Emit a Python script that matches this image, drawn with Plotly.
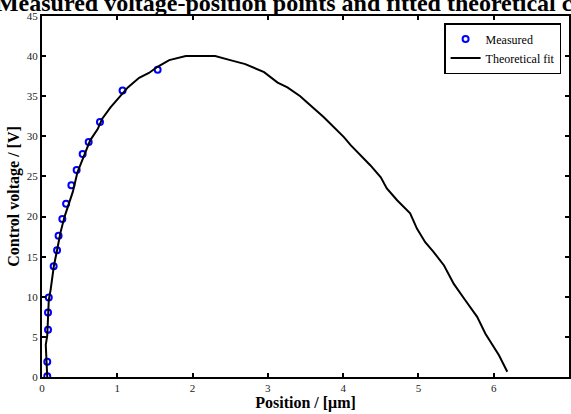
import plotly.graph_objects as go

# Measured voltage-position points
meas_x = [0.07, 0.07, 0.08, 0.08, 0.09, 0.155, 0.20, 0.22, 0.27, 0.32, 0.39, 0.46, 0.54, 0.62, 0.77, 1.07, 1.536]
meas_y = [0.1, 1.9, 5.9, 8.05, 9.9, 13.8, 15.8, 17.6, 19.7, 21.6, 23.9, 25.8, 27.8, 29.3, 31.8, 35.7, 38.3]

# Theoretical fit curve
fit_x = [0.07, 0.045, 0.05, 0.07, 0.09, 0.115, 0.157, 0.20, 0.245, 0.30, 0.36, 0.41, 0.47, 0.56,
         0.64, 0.74, 0.80, 0.91, 1.01, 1.14, 1.29, 1.42, 1.54, 1.69, 1.91, 2.30, 2.50, 2.70, 2.95,
         3.13, 3.26, 3.43, 3.50, 3.74, 4.01, 4.10, 4.36, 4.50, 4.58, 4.72, 4.89, 4.98, 5.09, 5.20,
         5.34, 5.47, 5.62, 5.78, 5.89, 6.07, 6.18]
fit_y = [0.0, 3.4, 4.0, 5.2, 9.6, 10.9, 13.8, 15.8, 18.0, 20.0, 21.8, 23.1, 25.5, 27.6,
         29.5, 30.9, 32.2, 33.6, 34.7, 36.1, 37.3, 37.9, 38.7, 39.5, 40.0, 40.0, 39.5, 39.0, 38.0,
         36.7, 36.1, 35.0, 34.4, 32.4, 29.9, 28.9, 26.4, 24.9, 23.5, 22.0, 20.4, 18.5, 16.8, 15.6,
         13.9, 11.6, 9.6, 7.5, 5.4, 2.7, 0.66]

x_ticks = [0, 1, 2, 3, 4, 5, 6, 7]
y_ticks = [0, 5, 10, 15, 20, 25, 30, 35, 40, 45]

serif = "Liberation Serif"

fig = go.Figure()
fig.add_trace(go.Scatter(
    x=meas_x, y=meas_y, mode="markers", name="Measured",
    marker=dict(symbol="circle-open", size=6, color="#0000ff", line=dict(width=2, color="#0000ff")),
))
fig.add_trace(go.Scatter(
    x=fit_x, y=fit_y, mode="lines", name="Theoretical fit",
    line=dict(color="black", width=2),
))

axis_common = dict(
    showgrid=False, zeroline=False, showline=True, linecolor="black", linewidth=2,
    mirror="ticks", ticks="inside", ticklen=4, tickwidth=2, tickcolor="black",
    tickfont=dict(family=serif, size=11, color="#222"),
    automargin=False,
)

fig.update_layout(
    width=571, height=414,
    margin=dict(l=41.5, r=2, t=16, b=37, autoexpand=False),
    paper_bgcolor="white", plot_bgcolor="white",
    title=dict(
        text="Measured voltage-position points and fitted theoretical curve",
        font=dict(family=serif, size=24, color="black", weight="bold"),
        x=307.5 / 571, xanchor="center", xref="container",
        y=1 - 3 / 414, yanchor="middle", yref="container",
    ),
    xaxis=dict(
        range=[0, 7], tickvals=x_ticks, ticktext=[str(v) for v in x_ticks],
        title=dict(text="Position / [μm]", font=dict(family=serif, size=16, color="black", weight="bold"), standoff=4),
        **axis_common,
    ),
    yaxis=dict(
        range=[0, 45], tickvals=y_ticks, ticktext=[str(v) for v in y_ticks],
        title=dict(text="Control voltage / [V]", font=dict(family=serif, size=16, color="black", weight="bold"), standoff=3),
        **axis_common,
    ),
    legend=dict(
        x=0.985, y=0.9806, xanchor="right", yanchor="top",
        bordercolor="black", borderwidth=1.5, bgcolor="white",
        font=dict(family=serif, size=12, color="black"),
        itemwidth=30, tracegroupgap=0,
    ),
    showlegend=True,
)

fig.write_html(
    "out.html",
    config={"displayModeBar": False},
    post_script="document.body.style.margin='0';document.body.style.padding='0';",
)
